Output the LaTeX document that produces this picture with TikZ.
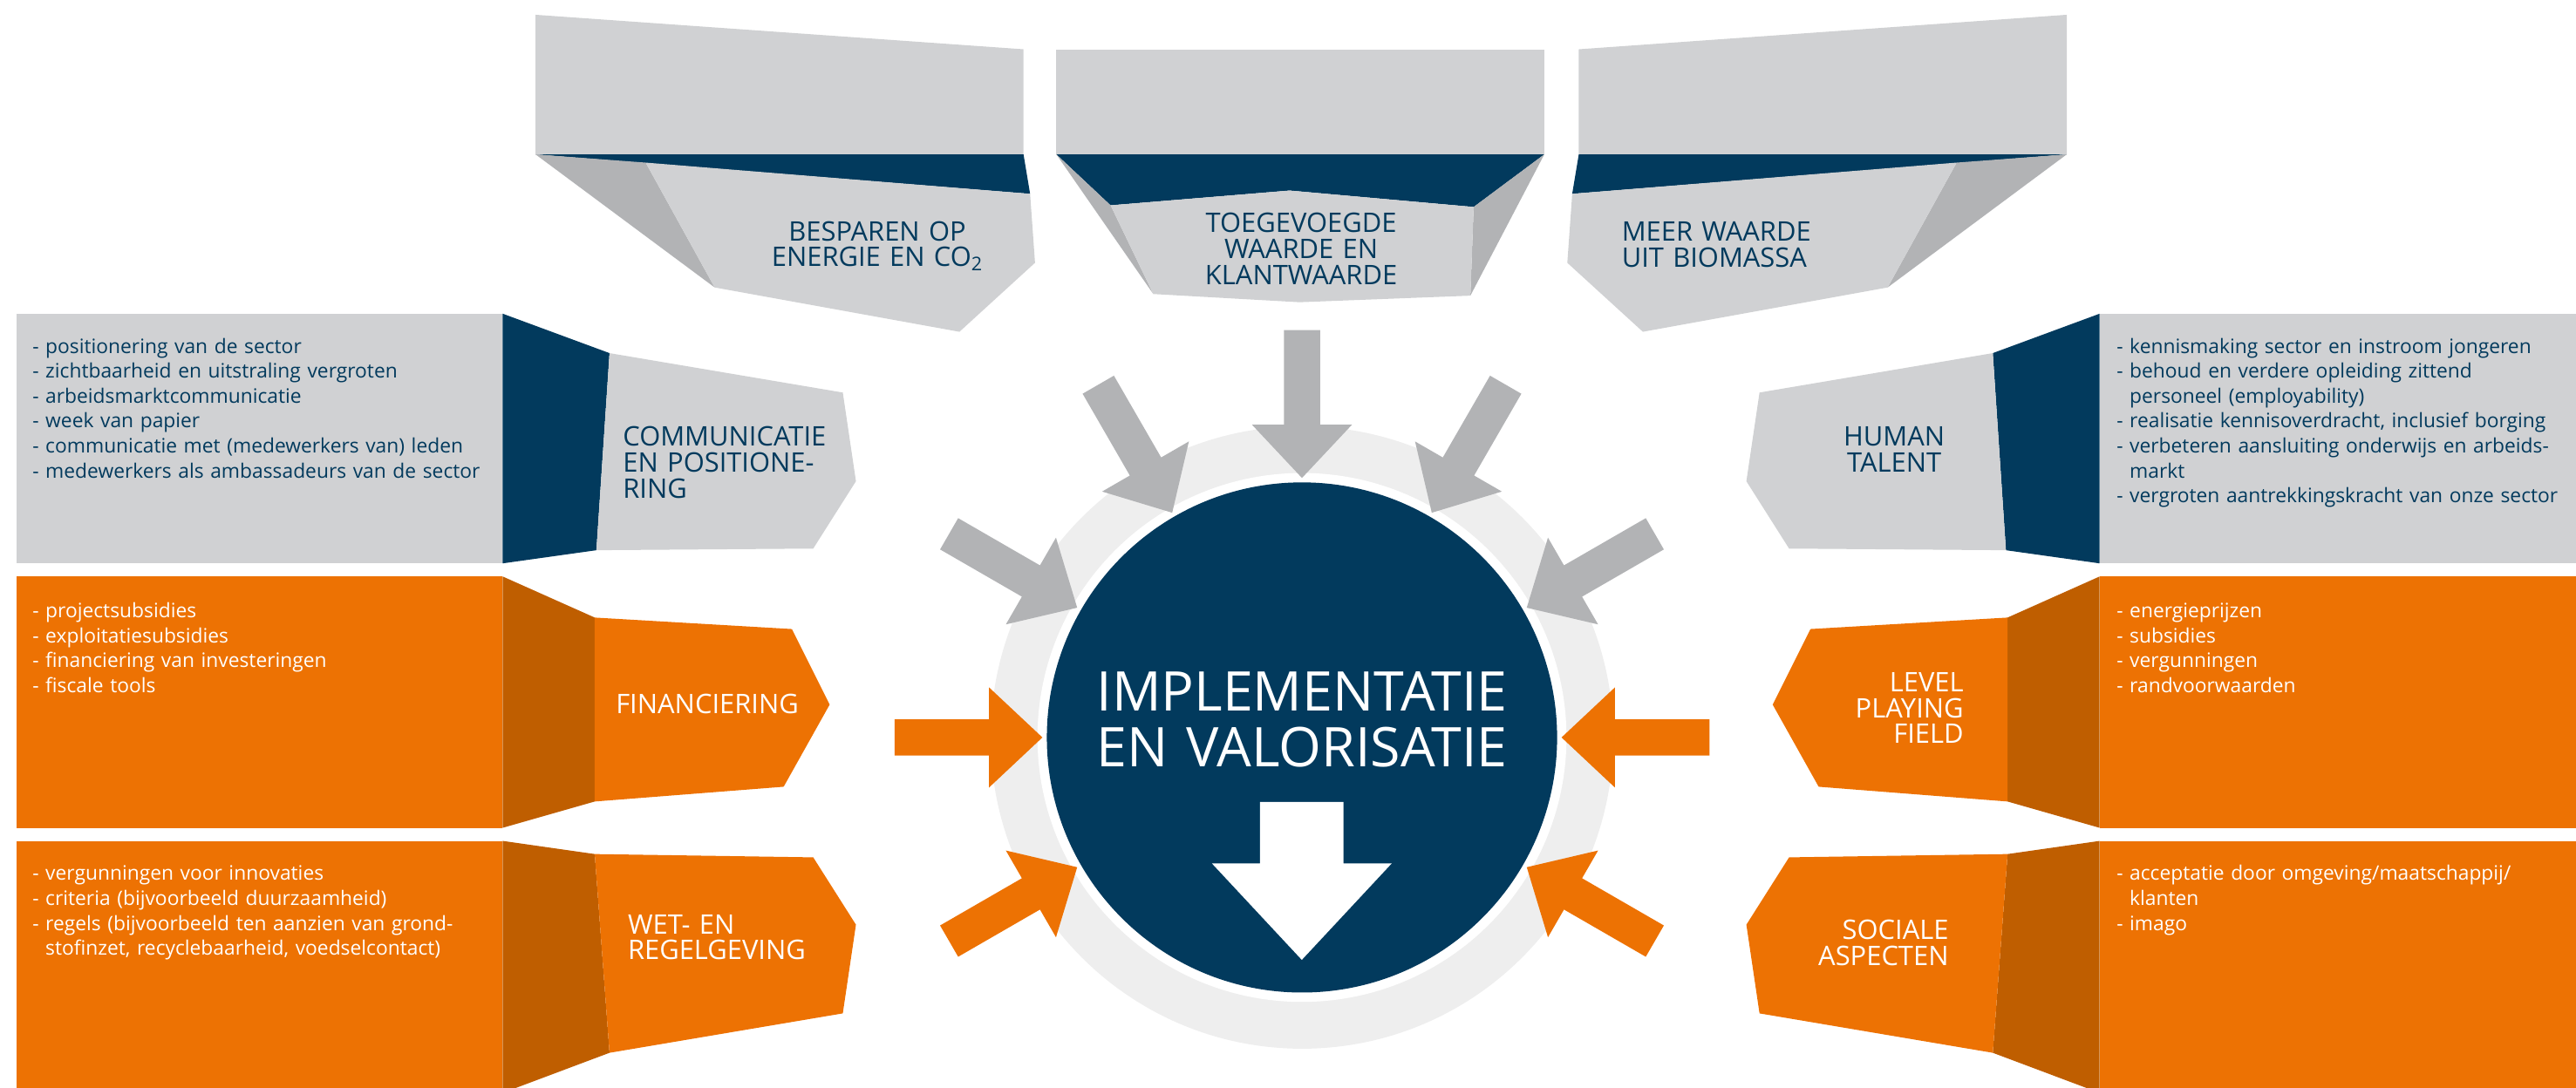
\documentclass[tikz,border=0pt]{standalone}
\usepackage{fontspec}
\setmainfont{Open Sans}
\definecolor{greyL}{HTML}{D0D1D3}
\definecolor{greyD}{HTML}{B2B3B5}
\definecolor{navy}{HTML}{023A5D}
\definecolor{orangeM}{HTML}{ED7203}
\definecolor{orangeD}{HTML}{BF5E00}
\definecolor{ringgrey}{HTML}{EEEEEE}
\tikzset{
  bul/.style={anchor=base west, inner sep=0pt, text width=320pt, align=left,
    font=\fontsize{12.1}{15.2}\selectfont},
  hdL/.style={anchor=base west, inner sep=0pt, text width=160pt, align=left,
    font=\fontsize{16.4}{15.8}\selectfont},
  hdC/.style={anchor=base, inner sep=0pt, text width=160pt, align=center,
    font=\fontsize{16.4}{15.8}\selectfont},
  hdR/.style={anchor=base east, inner sep=0pt, text width=160pt, align=right,
    font=\fontsize{16.4}{15.8}\selectfont},
  ctr/.style={anchor=base, inner sep=0pt, text width=320pt, align=center,
    font=\fontsize{33.3}{33.8}\selectfont, text=white},
}
\newcommand{\ind}{\hphantom{-\ }}
\begin{document}
\begin{tikzpicture}[x=1pt,y=-1pt]
\useasboundingbox (0,0) rectangle (1568,662.4);
\clip (0,0) rectangle (1568,662.4);

% ---------- top boxes ----------
% box 1
\fill[greyL] (326,9) -- (623,30) -- (623,94) -- (326,94) -- cycle;
\fill[navy] (326,94) -- (623,94) -- (627,118) -- cycle;
\fill[greyD] (326,94) -- (393,99) -- (435,175) -- cycle;
\fill[greyL] (393,99) -- (627,118) -- (630,160) -- (584,202) -- (435,175) -- cycle;
% box 2
\fill[greyL] (643,30) rectangle (940,94);
\fill[navy] (643,94) -- (940,94) -- (897,126) -- (785,116) -- (676,125) -- cycle;
\fill[greyD] (643,94) -- (676,125) -- (702,179) -- cycle;
\fill[greyD] (940,94) -- (897,126) -- (895,180) -- cycle;
\fill[greyL] (676,125) -- (785,116) -- (897,126) -- (895,180) -- (791,184) -- (702,179) -- cycle;
% box 3
\fill[greyL] (1258,9) -- (961,30) -- (961,94) -- (1258,94) -- cycle;
\fill[navy] (1258,94) -- (961,94) -- (957,118) -- cycle;
\fill[greyD] (1258,94) -- (1191,99) -- (1149,175) -- cycle;
\fill[greyL] (1191,99) -- (957,118) -- (954,160) -- (1000,202) -- (1149,175) -- cycle;

% ---------- left column ----------
\fill[greyL] (10,191) rectangle (306,343);
\fill[navy] (306,191) -- (371,215) -- (363,335) -- (306,343) -- cycle;
\fill[greyL] (371,215) -- (513,239) -- (521,293) -- (495,334) -- (363,335) -- cycle;

\fill[orangeM] (10,351) rectangle (306,504);
\fill[orangeD] (306,351) -- (362,376) -- (362,488) -- (306,504) -- cycle;
\fill[orangeM] (362,376) -- (482,383) -- (505,429) -- (477,479) -- (362,488) -- cycle;

\fill[orangeM] (10,512) rectangle (306,670);
\fill[orangeD] (306,512) -- (362,520) -- (371,641) -- (306,665.4) -- cycle;
\fill[orangeM] (362,520) -- (495,522) -- (521,563) -- (513,617) -- (371,641) -- cycle;

% ---------- right column ----------
\fill[greyL] (1278,191) rectangle (1570,343);
\fill[navy] (1278,191) -- (1213,215) -- (1221,335) -- (1278,343) -- cycle;
\fill[greyL] (1213,215) -- (1071,239) -- (1063,293) -- (1089,334) -- (1221,335) -- cycle;

\fill[orangeM] (1278,351) rectangle (1570,504);
\fill[orangeD] (1278,351) -- (1222,376) -- (1222,488) -- (1278,504) -- cycle;
\fill[orangeM] (1222,376) -- (1102,383) -- (1079,429) -- (1107,479) -- (1222,488) -- cycle;

\fill[orangeM] (1278,512) rectangle (1570,670);
\fill[orangeD] (1278,512) -- (1222,520) -- (1213,641) -- (1278,665.4) -- cycle;
\fill[orangeM] (1222,520) -- (1089,522) -- (1063,563) -- (1071,617) -- (1213,641) -- cycle;

% ---------- central circle ----------
\coordinate (C) at (792.5,449);
\fill[ringgrey] (C) circle[radius=189.5];
\fill[white] (C) circle[radius=161];
\fill[navy] (C) circle[radius=155.3];

% arrows
\foreach \a/\c in {90/greyD,60/greyD,120/greyD,30/greyD,150/greyD,0/orangeM,180/orangeM,210/orangeM,-30/orangeM}{
  \begin{scope}[shift={(C)},rotate=\a]
    \fill[\c] (158,0) -- (190.5,30.5) -- (190.5,11) -- (248,11) -- (248,-11)
      -- (190.5,-11) -- (190.5,-30.5) -- cycle;
  \end{scope}
}

% white down arrow
\fill[white] (766.9,488.3) -- (817.8,488.3) -- (817.8,525.7) -- (847.1,525.7)
  -- (792.4,584.4) -- (737.7,525.7) -- (766.9,525.7) -- cycle;

\node[ctr] (center) at (792.5,432.8) {IMPLEMENTATIE\\EN VALORISATIE};

% ---------- headings ----------
\node[hdC, text=navy] (h1) at (534,146.5) {BESPAREN OP\\ENERGIE EN CO\textsubscript{2}};
\node[hdC, text=navy] (h2) at (792,141.5) {TOEGEVOEGDE\\WAARDE EN\\KLANTWAARDE};
\node[hdL, text=navy] (h3) at (987,146.9) {MEER WAARDE\\UIT BIOMASSA};
\node[hdL, text=navy] (h4) at (379,271.6) {COMMUNICATIE\\EN POSITIONE-\\RING};
\node[hdC, text=white] (h5) at (430.5,434.4) {FINANCIERING};
\node[hdL, text=white] (h6) at (382,568.5) {WET- EN\\REGELGEVING};
\node[hdC, text=navy] (h7) at (1153,271.6) {HUMAN\\TALENT};
\node[hdR, text=white] (h8) at (1195.4,421.1) {LEVEL\\PLAYING\\FIELD};
\node[hdR, text=white] (h9) at (1186.3,572) {SOCIALE\\ASPECTEN};

% ---------- bullet texts ----------
\node[bul, text=navy] (b1) at (19.6,215) {- positionering van de sector\\
- zichtbaarheid en uitstraling vergroten\\
- arbeidsmarktcommunicatie\\
- week van papier\\
- communicatie met (medewerkers van) leden\\
- medewerkers als ambassadeurs van de sector};
\node[bul, text=white] (b2) at (19.6,376) {- projectsubsidies\\
- exploitatiesubsidies\\
- financiering van investeringen\\
- fiscale tools};
\node[bul, text=white] (b3) at (19.6,536) {- vergunningen voor innovaties\\
- criteria (bijvoorbeeld duurzaamheid)\\
- regels (bijvoorbeeld ten aanzien van grond-\\
\ind stofinzet, recyclebaarheid, voedselcontact)};
\node[bul, text=navy] (b4) at (1288.2,215) {- kennismaking sector en instroom jongeren\\
- behoud en verdere opleiding zittend\\
\ind personeel (employability)\\
- realisatie kennisoverdracht, inclusief borging\\
- verbeteren aansluiting onderwijs en arbeids-\\
\ind markt\\
- vergroten aantrekkingskracht van onze sector};
\node[bul, text=white] (b5) at (1288.2,376) {- energieprijzen\\
- subsidies\\
- vergunningen\\
- randvoorwaarden};
\node[bul, text=white] (b6) at (1288.2,536) {- acceptatie door omgeving/maatschappij/\\
\ind klanten\\
- imago};
\end{tikzpicture}
\end{document}
